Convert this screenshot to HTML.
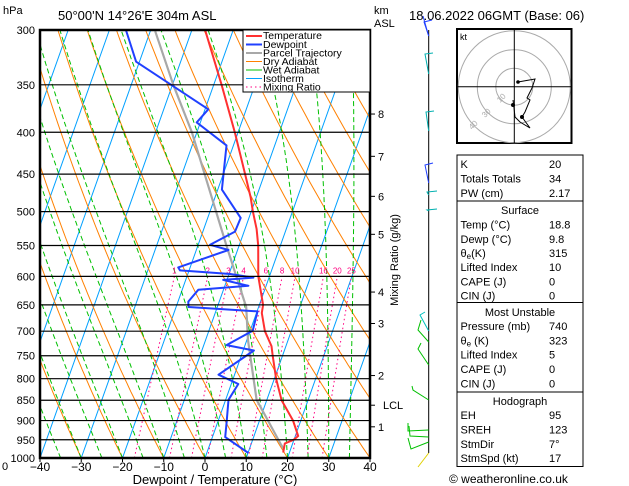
<!DOCTYPE html>
<html><head><meta charset="utf-8">
<style>
body{margin:0;background:#fff;}
svg{display:block;font-family:"Liberation Sans",sans-serif;}
</style></head>
<body>
<svg id="c" width="629" height="486" viewBox="0 0 629 486" xmlns="http://www.w3.org/2000/svg">
<defs><clipPath id="pc"><rect x="40" y="30" width="330" height="428"/></clipPath></defs>
<g id="bg" clip-path="url(#pc)"></g>
<g id="series" clip-path="url(#pc)"></g>
<g id="axes"></g>
</svg>
<script>
const pressureLevels=[300,350,400,450,500,550,600,650,700,750,800,850,900,950,1000];
const tempTicks=[-40,-30,-20,-10,0,10,20,30,40];
const tempP=[300,350,400,450,480,500,525,550,600,650,665,700,730,750,800,850,900,940,950,960,985];
const tempT=[-36.8,-28.1,-20.8,-14.7,-11.4,-9.6,-7.2,-5.4,-2.7,0.9,1.3,3.6,6.5,7.6,10.4,13.6,18.1,20.7,19.9,18.1,18.5];
const dewP=[300,328,375,389,415,470,509,529,549,557,585,590,596,602,606,616,623,644,654,662,699,728,739,791,812,849,902,943,986];
const dewT=[-56,-50.8,-29.2,-30.9,-21.7,-19,-12,-12.2,-17.1,-12.2,-22.9,-22.2,-9.7,-3.8,-10.9,-4.3,-16.1,-17.5,-17,0.1,0.6,-4.5,2.6,-3.9,1.7,0.7,2.1,3.1,10.1];
const parcelP=[301,350,400,551,654,718,849,896,961,975];
const parcelT=[-48.8,-39.8,-31.2,-13,-3,0.3,7.5,11.7,17.1,18.3];
const mixRatios=[1,2,3,4,6,8,10,16,20,25];
const kmLabels=["8","7","6","5","4","3","2","LCL","1"];
const kmP=[380,428,479,533,627,685,793,862,916];

const NS="http://www.w3.org/2000/svg";
const X0=40,X1=370,Y0=30,Y1=458,SC=4.125,K=0.355;
function yP(p){return Y0+(Y1-Y0)*Math.log(p/300)/Math.log(1000/300);}
function xT(t,p){return X0+SC*(t+40)+K*(Y1-yP(p));}
function mk(tag,attrs,parent){const e=document.createElementNS(NS,tag);for(const k in attrs)e.setAttribute(k,attrs[k]);parent.appendChild(e);return e;}
const bg=document.getElementById('bg'),ser=document.getElementById('series'),ax=document.getElementById('axes');
function pl(pts,style,parent,name){const e=mk('polyline',{points:pts.map(a=>a[0].toFixed(1)+','+a[1].toFixed(1)).join(' '),fill:'none'},parent);for(const k in style)e.setAttribute(k,style[k]);return e;}
// isotherms
for(let t=-120;t<=40;t+=10){const l=pl([[xT(t,1000),yP(1000)],[xT(t,300),yP(300)]],{stroke:'#00a0ff','stroke-width':1},bg,'isotherm');}
// dry adiabats
for(let th=-30;th<=250;th+=10){const pts=[];for(let p=1000;p>=300;p-=10){const T=(th+273.15)*Math.pow(p/1000,0.286)-273.15;pts.push([xT(T,p),yP(p)]);}pl(pts,{stroke:'#ff8000','stroke-width':1},bg,'dry-adiabat');}
// moist adiabats
function es(T){return 6.112*Math.exp(17.67*T/(T+243.5));}
for(let t0=-40;t0<=40;t0+=5){let T=t0;const pts=[[xT(T,1000),yP(1000)]];for(let p=1000;p>300;p-=5){const Tk=T+273.15,e=es(T),rs=0.622*e/(p-e);const Lv=2.5e6,Rd=287,cp=1005;const dTdp=(Rd*Tk+Lv*rs)/(p*(cp+Lv*Lv*rs*0.622/(Rd*Tk*Tk)));T-=dTdp*5;pts.push([xT(T,p-5),yP(p-5)]);}pl(pts,{stroke:'#00c000','stroke-width':1,'stroke-dasharray':'5,3'},bg,'wet-adiabat');}
// mixing ratio lines
function tW(w,p){const e=w*p/(622+w);const L=Math.log(e/6.112);return 243.5*L/(17.67-L);}
mixRatios.forEach(w=>{const pts=[];for(let p=1000;p>=600;p-=10)pts.push([xT(tW(w,p),p),yP(p)]);pl(pts,{stroke:'#ff0080','stroke-width':1,'stroke-dasharray':'1.5,3'},bg,'mixing-ratio-line');
const t=mk('text',{x:xT(tW(w,600),600),y:yP(600)-3,'font-size':8,fill:'#ff0080','text-anchor':'middle'},bg);t.textContent=w;});
// pressure lines
pressureLevels.forEach(p=>{const l=mk('line',{x1:X0,x2:X1,y1:yP(p),y2:yP(p),stroke:'#000','stroke-width':1.2},ax);
const t=mk('text',{x:35,y:yP(p)+4,'font-size':11,'text-anchor':'end',fill:'#000'},ax);t.textContent=p;});
tempTicks.forEach(t=>{const x=X0+SC*(t+40);const l=mk('line',{x1:x,x2:x,y1:Y1,y2:Y1+4,stroke:'#000'},ax);
const e=mk('text',{x:x,y:471,'font-size':12,'text-anchor':'middle'},ax);e.textContent=(t<0?'\u2212'+(-t):t);});
// series
function ser2(P,T,col,w,name){pl(P.map((p,i)=>[xT(T[i],p),yP(p)]),{stroke:col,'stroke-width':w,'stroke-linejoin':'round'},ser,name);}
ser2(parcelP,parcelT,'#a8a8a8',2.2,'parcel-trajectory');
ser2(dewP,dewT,'#2040ff',2,'dewpoint-line');
ser2(tempP,tempT,'#ff3030',2,'temperature-line');
// frame
const fr=mk('rect',{x:X0,y:Y0,width:X1-X0,height:Y1-Y0,fill:'none',stroke:'#000','stroke-width':2.5},ax);
// km axis
kmLabels.forEach((s,i)=>{const y=yP(kmP[i]);const l=mk('line',{x1:370,x2:375,y1:y,y2:y,stroke:'#000'},ax);
const t=mk('text',{x:s==='LCL'?383:378,y:y+4,'font-size':11},ax);t.textContent=s;});
</script>
<svg style="position:absolute;left:0;top:0" width="629" height="486" xmlns="http://www.w3.org/2000/svg" font-family="Liberation Sans, sans-serif">
<text x="3" y="14" font-size="11">hPa</text>
<text x="58" y="20" font-size="13">50°00'N  14°26'E  304m  ASL</text>
<text x="374" y="14" font-size="11">km</text>
<text x="374" y="27" font-size="11">ASL</text>
<text x="409" y="20" font-size="13">18.06.2022  06GMT  (Base: 06)</text>
<text x="215" y="484" font-size="13" text-anchor="middle">Dewpoint / Temperature (°C)</text>
<text transform="translate(398,260) rotate(-90)" font-size="11" text-anchor="middle">Mixing Ratio (g/kg)</text>
<text x="2" y="470" font-size="11">0</text>
<g font-size="10.5">
<rect x="243" y="30" width="127" height="62" fill="#fff" stroke="#000"/>
<line x1="246" y1="36" x2="262" y2="36" stroke="#ff3030" stroke-width="2"/><text x="263" y="39">Temperature</text>
<line x1="246" y1="44.5" x2="262" y2="44.5" stroke="#2040ff" stroke-width="2"/><text x="263" y="48">Dewpoint</text>
<line x1="246" y1="53" x2="262" y2="53" stroke="#a8a8a8" stroke-width="2"/><text x="263" y="56.5">Parcel Trajectory</text>
<line x1="246" y1="61.5" x2="262" y2="61.5" stroke="#ff8000"/><text x="263" y="65">Dry Adiabat</text>
<line x1="246" y1="70" x2="262" y2="70" stroke="#00c000"/><text x="263" y="73.5">Wet Adiabat</text>
<line x1="246" y1="78.5" x2="262" y2="78.5" stroke="#00a0ff"/><text x="263" y="82">Isotherm</text>
<line x1="246" y1="87" x2="262" y2="87" stroke="#ff0080" stroke-dasharray="1.5,3"/><text x="263" y="90.5">Mixing Ratio</text>
</g>
<g fill="none" stroke-width="1">
<line x1="428.7" y1="30" x2="428.7" y2="453" stroke="#000"/>
<g stroke="#2040ff"><polyline points="428.7,36 424,22 432,20"/><polyline points="428.7,36 423,16"/></g>
<g stroke="#00b0b0"><polyline points="428.7,74 425,54 433,53"/><polyline points="428.7,131 426,112 434,111"/><polyline points="428.7,195 427,192 437,191"/><polyline points="428.7,211 427,210 437,209"/></g>
<g stroke="#2040ff"><polyline points="428.7,183 425,165 433,163"/></g>
<g stroke="#00c000"><polyline points="428.7,342 418,330 421,320"/><polyline points="428.7,365 418,349 421,343"/><polyline points="428.7,400 413,390 412,386"/><polyline points="428.7,430 408,431 408,423"/><polyline points="428.7,437 410,436 409,426"/><polyline points="428.7,442 411,449 408,438"/></g>
<g stroke="#00c0c0"><polyline points="428.7,331 420,315 425,312"/></g>
<polyline points="428.7,453 418,467" stroke="#e0d000"/>
</g>
<g>
<rect x="457" y="29" width="114.5" height="114" fill="#fff" stroke="#000" stroke-width="2"/>
<g fill="none" stroke="#aaa"><circle cx="514.3" cy="86.7" r="18.5"/><circle cx="514.3" cy="86.7" r="37"/><circle cx="514.3" cy="86.7" r="56"/></g>
<line x1="457" y1="86.7" x2="571" y2="86.7" stroke="#000"/><line x1="514.3" y1="29" x2="514.3" y2="143" stroke="#000"/>
<text x="460" y="40" font-size="9">kt</text>
<polyline points="518,82 535,79 532,88 527,98 530,100 525,112 522,117 530,128 520,122 515,117 514,108 513,100" fill="none" stroke="#000"/>
<circle cx="518" cy="82" r="1.8"/><circle cx="522" cy="117" r="2"/><circle cx="513" cy="105" r="2"/>
<text x="500" y="103" font-size="8" fill="#aaa" transform="rotate(-45 500 103)">10</text>
<text x="485" y="118" font-size="8" fill="#aaa" transform="rotate(-45 485 118)">30</text>
<text x="472" y="130" font-size="8" fill="#aaa" transform="rotate(-45 472 130)">40</text>
</g>
<g font-size="11">
<rect x="457" y="155" width="126" height="46" fill="none" stroke="#000"/>
<rect x="457" y="201" width="126" height="101.5" fill="none" stroke="#000"/>
<rect x="457" y="302.5" width="126" height="89.5" fill="none" stroke="#000"/>
<rect x="457" y="392" width="126" height="74.5" fill="none" stroke="#000"/>
<text x="460.5" y="168">K</text><text x="549" y="168">20</text>
<text x="460.5" y="182.5">Totals Totals</text><text x="549" y="182.5">34</text>
<text x="460.5" y="197">PW (cm)</text><text x="549" y="197">2.17</text>
<text x="520" y="214" text-anchor="middle">Surface</text>
<text x="460.5" y="228.5">Temp (°C)</text><text x="549" y="228.5">18.8</text>
<text x="460.5" y="243">Dewp (°C)</text><text x="549" y="243">9.8</text>
<text x="460.5" y="257">θ<tspan font-size="8" dy="2">e</tspan><tspan dy="-2">(K)</tspan></text><text x="549" y="257">315</text>
<text x="460.5" y="271">Lifted Index</text><text x="549" y="271">10</text>
<text x="460.5" y="285.5">CAPE (J)</text><text x="549" y="285.5">0</text>
<text x="460.5" y="299.5">CIN (J)</text><text x="549" y="299.5">0</text>
<text x="520" y="316" text-anchor="middle">Most Unstable</text>
<text x="460.5" y="330">Pressure (mb)</text><text x="549" y="330">740</text>
<text x="460.5" y="344.5">θ<tspan font-size="8" dy="2">e</tspan><tspan dy="-2"> (K)</tspan></text><text x="549" y="344.5">323</text>
<text x="460.5" y="358.5">Lifted Index</text><text x="549" y="358.5">5</text>
<text x="460.5" y="373">CAPE (J)</text><text x="549" y="373">0</text>
<text x="460.5" y="387.5">CIN (J)</text><text x="549" y="387.5">0</text>
<text x="520" y="405" text-anchor="middle">Hodograph</text>
<text x="460.5" y="419">EH</text><text x="549" y="419">95</text>
<text x="460.5" y="433.5">SREH</text><text x="549" y="433.5">123</text>
<text x="460.5" y="448">StmDir</text><text x="549" y="448">7°</text>
<text x="460.5" y="462">StmSpd (kt)</text><text x="549" y="462">17</text>
</g>
<text x="449" y="483" font-size="12">© weatheronline.co.uk</text>
</svg>
</body></html>
